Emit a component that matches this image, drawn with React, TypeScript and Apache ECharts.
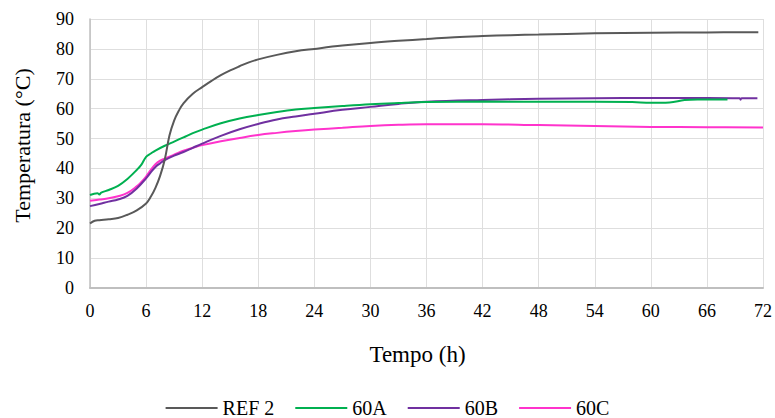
import React, { useEffect, useRef } from "react";
import * as echarts from "echarts";

// Temperature curves over time (hours) for the reference mix and three samples
const ref2Hours = [0, 0.5, 1, 2, 3, 4, 5, 6, 6.5, 7, 7.5, 8, 8.5, 9, 9.5, 10, 11, 12, 13, 14, 15, 16, 17, 18, 20, 22, 24, 27, 30, 33, 36, 39, 42, 45, 48, 54, 60, 66, 71.5];
const ref2Temps = [21.6, 22.5, 22.7, 23, 23.4, 24.5, 26, 28.3, 30.5, 33.5, 37.5, 43, 51, 56, 59.3, 61.8, 65, 67.2, 69.3, 71.2, 72.8, 74.2, 75.5, 76.5, 78, 79.2, 80, 81.1, 82, 82.7, 83.3, 83.9, 84.3, 84.6, 84.8, 85.2, 85.4, 85.5, 85.6];

const s60AHours = [0, 0.8, 1, 1.2, 2, 3, 4, 5, 5.5, 6, 6.5, 7, 8, 9, 10, 11, 12, 14, 16, 18, 20, 22, 24, 27, 30, 33, 36, 42, 48, 54, 58, 60, 62, 63.6, 65, 68.2];
const s60ATemps = [31.1, 31.7, 31.3, 31.9, 32.8, 34.2, 36.5, 39.5, 41.3, 43.9, 45, 46, 47.6, 49, 50.4, 51.8, 53, 55.1, 56.7, 57.9, 58.9, 59.7, 60.2, 60.9, 61.5, 61.9, 62.2, 62.4, 62.3, 62.3, 62.2, 62, 62.1, 62.9, 63.1, 63.1];

const s60BHours = [0, 1, 2, 3, 4, 5, 6, 6.5, 7, 7.5, 8, 9, 10, 11, 12, 14, 16, 18, 20, 22, 24, 27, 30, 33, 36, 42, 48, 54, 60, 66, 69.5, 69.6, 69.7, 71.4];
const s60BTemps = [27.4, 28.1, 28.9, 29.6, 30.8, 33.3, 36.7, 38.7, 40.5, 41.7, 42.8, 44.3, 45.5, 46.9, 48.3, 50.9, 53.1, 54.9, 56.4, 57.4, 58.3, 59.6, 60.6, 61.6, 62.3, 62.9, 63.3, 63.5, 63.6, 63.6, 63.5, 63.0, 63.5, 63.5];

const s60CHours = [0, 1, 2, 3, 4, 5, 5.5, 6, 6.5, 7, 7.5, 8, 9, 10, 11, 12, 14, 16, 18, 20, 22, 24, 27, 30, 33, 36, 42, 48, 54, 60, 66, 72];
const s60CTemps = [29.2, 29.6, 30, 30.7, 31.8, 34, 35.5, 37.3, 39.5, 41.4, 42.6, 43.3, 44.6, 45.9, 46.9, 47.8, 49.1, 50.2, 51.2, 51.9, 52.5, 53, 53.6, 54.2, 54.6, 54.8, 54.8, 54.5, 54.2, 53.9, 53.8, 53.7];

const seriesNames = ["REF 2", "60A", "60B", "60C"];
const seriesColors = ["#595959", "#00b050", "#7030a0", "#ff33cc"];

const pair = (xs: number[], ys: number[]) => xs.map((x, i) => [x, ys[i]]);

const FONT = "Times New Roman, Liberation Serif, serif";

export default function App() {
  const ref = useRef<HTMLDivElement>(null);

  useEffect(() => {
    if (!ref.current) return;
    const chart = echarts.init(ref.current, undefined, { renderer: "svg" });
    const datasets = [
      pair(ref2Hours, ref2Temps),
      pair(s60AHours, s60ATemps),
      pair(s60BHours, s60BTemps),
      pair(s60CHours, s60CTemps),
    ];
    chart.setOption({
      animation: false,
      backgroundColor: "#ffffff",
      textStyle: { fontFamily: FONT },
      grid: { left: 90, right: 11, top: 19, bottom: 130 },
      legend: {
        top: 393,
        left: "center",
        icon: "rect",
        itemWidth: 52,
        itemHeight: 2,
        itemGap: 21,
        data: seriesNames,
        textStyle: { fontFamily: FONT, fontSize: 20, color: "#000" },
      },
      xAxis: {
        type: "value",
        min: 0,
        max: 72,
        interval: 6,
        name: "Tempo (h)",
        nameLocation: "middle",
        nameGap: 55,
        nameTextStyle: { fontFamily: FONT, fontSize: 23, color: "#000", padding: [0, 18, 0, 0] },
        axisLine: { show: true, lineStyle: { color: "#bfbfbf", width: 2 } },
        axisTick: { show: false },
        axisLabel: { fontFamily: FONT, fontSize: 18, color: "#000", margin: 14 },
        splitLine: { show: true, lineStyle: { color: "#dedede", width: 1 } },
      },
      yAxis: {
        type: "value",
        min: 0,
        max: 90,
        interval: 10,
        name: "Temperatura (°C)",
        nameLocation: "middle",
        nameGap: 57,
        nameTextStyle: { fontFamily: FONT, fontSize: 22, color: "#000", padding: [0, 0, 0, 16] },
        axisLine: { show: true, lineStyle: { color: "#bfbfbf", width: 1.5 } },
        axisTick: { show: false },
        axisLabel: { fontFamily: FONT, fontSize: 18, color: "#000", margin: 16 },
        splitLine: { show: true, lineStyle: { color: "#dedede", width: 1 } },
      },
      series: seriesNames.map((name, i) => ({
        name,
        type: "line",
        data: datasets[i],
        symbol: "none",
        smooth: 0.4,
        lineStyle: { color: seriesColors[i], width: 2 },
        itemStyle: { color: seriesColors[i] },
        z: 4 - i,
      })),
    });
    return () => chart.dispose();
  }, []);

  return (
    <div
      ref={ref}
      style={{ position: "fixed", left: 0, top: 0, width: 775, height: 418, background: "#fff" }}
    />
  );
}
